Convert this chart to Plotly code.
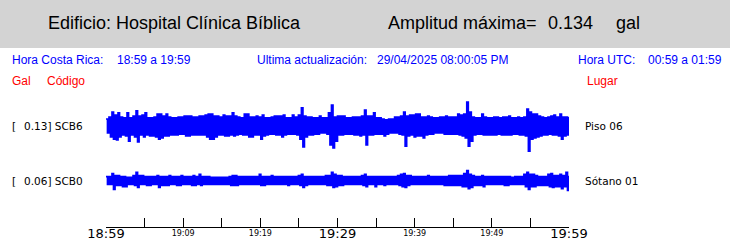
import numpy as np
import plotly.graph_objects as go

# ---------------- data ----------------
station_codes = ["SCB6", "SCB0"]
station_places = ["Piso 06", "Sótano 01"]
station_max_gal = [0.13, 0.06]
max_amplitude = "0.134"

tick_minutes = [0, 5, 10, 15, 20, 25, 30, 35, 40, 45, 50, 55, 60]
small_tick_text = ["", "", "19:09", "", "19:19", "", "", "", "19:39", "", "19:49", "", ""]
big_tick_minutes = [0, 30, 60]
big_tick_text = ["18:59", "19:29", "19:59"]

# peak amplitudes (mgal) per ~23 s bin, 18:59 -> 19:59 : upward / downward
scb6_up = [39,50,78,61,73,50,45,73,45,56,84,56,61,73,45,45,50,67,67,56,67,50,45,45,50,50,56,56,56,50,50,
           56,56,61,67,67,56,56,50,61,56,56,73,56,50,45,67,67,50,50,56,50,61,45,45,50,56,56,56,61,45,
           45,61,50,61,101,56,50,50,45,45,56,45,45,73,117,50,56,56,56,45,45,50,50,50,56,89,56,56,73,45,45,
           39,34,39,39,50,50,56,78,56,61,61,67,67,50,50,56,50,45,45,50,50,56,50,50,50,67,61,67,134,78,50,
           45,45,67,50,45,45,50,50,45,50,50,56,45,45,50,45,50,95,78,67,67,56,50,45,50,56,61,50,67,50,50,45]
scb6_dn = [39,61,73,78,61,50,56,84,50,61,89,50,61,50,56,56,61,73,67,56,56,50,50,50,45,45,56,56,50,50,50,
           50,50,61,73,73,61,50,50,56,56,50,56,50,45,50,50,61,61,50,50,73,56,50,45,45,50,50,61,50,45,
           45,45,50,73,117,61,50,50,45,45,39,39,45,106,123,84,50,50,45,45,45,50,50,56,50,106,50,50,45,45,45,
           56,45,39,39,39,45,50,112,56,50,61,56,56,67,50,45,45,39,39,39,45,45,45,45,45,50,56,67,112,84,50,
           45,45,50,50,50,50,50,45,50,50,50,50,45,45,50,50,56,140,73,67,61,56,50,50,45,50,50,56,73,56,50,45]
scb0_up = [22,22,39,28,28,22,22,17,17,28,45,28,28,22,22,22,22,28,22,22,22,28,22,22,22,28,22,22,22,28,22,
           34,22,22,22,17,17,17,17,17,17,22,28,28,22,22,22,22,22,22,22,34,22,22,22,28,22,22,22,22,22,
           22,22,22,28,34,22,22,22,22,22,22,22,28,28,45,34,28,28,22,22,22,22,22,22,28,34,22,22,22,22,22,
           22,22,22,22,22,28,34,39,28,28,22,22,22,22,22,28,22,22,22,22,22,22,28,28,28,28,28,39,56,34,28,
           22,22,28,22,22,22,22,22,22,22,22,22,17,22,22,22,34,45,34,34,28,22,22,22,34,39,28,28,34,28,45,22]
scb0_dn = [22,22,50,28,28,34,34,22,22,28,39,22,22,28,28,22,22,39,28,28,28,22,22,28,28,22,22,22,28,28,22,
           28,22,22,22,22,22,22,22,22,22,28,28,28,22,22,22,22,22,22,22,28,28,22,22,22,22,22,22,22,28,
           22,22,22,28,39,28,22,22,22,22,22,22,28,28,39,34,28,28,22,22,22,22,22,22,28,34,22,22,34,22,22,
           28,22,22,22,22,28,34,39,28,22,22,22,22,22,22,22,22,22,22,22,28,28,28,28,28,28,34,34,45,39,28,
           28,28,34,22,22,22,22,22,22,28,28,22,22,22,22,22,34,50,34,34,28,28,28,28,34,39,34,34,45,34,56,28]

# ---------------- layout constants ----------------
W, H = 730, 247
ML, MR, MT, MB = 106, 161, 0, 20
PW = W - ML - MR
PH = H - MT - MB
PX_PER_GAL = 179.0


def px(xp):
    return (xp - ML) / PW


def py(yp):
    return (PH - yp) / PH


def zig(up, dn):
    n = len(up)
    t = np.arange(n) * 60.0 / (n - 1)
    dt = t[1] - t[0]
    xs, ys = [], []
    for i in range(n):
        xs += [t[i], t[i] + dt / 2]
        ys += [up[i] / 1000.0, -dn[i] / 1000.0]
    return xs, ys


fig = go.Figure()
blue = "#0000ff"
x6, y6 = zig(scb6_up, scb6_dn)
x0, y0 = zig(scb0_up, scb0_dn)
fig.add_trace(go.Scatter(x=x6, y=y6, mode="lines", line=dict(color=blue, width=1.7, shape="hv"),
                         xaxis="x", yaxis="y", hoverinfo="skip", showlegend=False))
fig.add_trace(go.Scatter(x=x0, y=y0, mode="lines", line=dict(color=blue, width=1.7, shape="hv"),
                         xaxis="x", yaxis="y2", hoverinfo="skip", showlegend=False))
fig.add_trace(go.Scatter(x=[0, 60], y=[0, 0], mode="lines", line=dict(width=0),
                         opacity=0, xaxis="x2", yaxis="y", hoverinfo="skip", showlegend=False))


def dom(center_px, half_px):
    c = py(center_px)
    h = half_px / PH
    return [c - h, c + h], half_px / PX_PER_GAL


d6, r6 = dom(126, 30)
d0, r0 = dom(180.5, 14)

axis_font_small = dict(family="DejaVu Sans", size=8, color="black")
axis_font_big = dict(family="DejaVu Sans", size=13, color="black")

fig.update_layout(
    width=W, height=H,
    margin=dict(l=ML, r=MR, t=MT, b=MB, pad=0),
    paper_bgcolor="white", plot_bgcolor="white",
    xaxis=dict(range=[0, 60], tickmode="array", tickvals=tick_minutes, ticktext=small_tick_text,
               ticks="inside", ticklen=9, tickwidth=1, tickcolor="black",
               showline=True, linecolor="black", linewidth=1, showgrid=False, zeroline=False,
               tickfont=axis_font_small, anchor="free", position=0, fixedrange=True,
               ticklabelstandoff=-2),
    xaxis2=dict(range=[0, 60], tickmode="array", tickvals=big_tick_minutes, ticktext=big_tick_text,
                ticks="", showline=False, showgrid=False, zeroline=False, tickfont=axis_font_big,
                overlaying="x", anchor="free", position=0, side="bottom", fixedrange=True,
                ticklabelstandoff=-3),
    yaxis=dict(domain=d6, range=[-r6, r6], visible=False, fixedrange=True),
    yaxis2=dict(domain=d0, range=[-r0, r0], visible=False, fixedrange=True),
)

# header band
fig.add_shape(type="rect", xref="paper", yref="paper", x0=px(0), x1=px(W), y0=py(48), y1=py(0),
              fillcolor="#d3d3d3", line=dict(width=0), layer="below")

ann = []


def txt(x, y, s, font):
    ann.append(dict(x=px(x), y=py(y), xref="paper", yref="paper", text=s, showarrow=False,
                    xanchor="left", yanchor="middle", font=font))


title_font = dict(family="Liberation Sans, Arial", size=18, color="black")
blue_font = dict(family="Liberation Sans, Arial", size=12, color=blue)
red_font = dict(family="Liberation Sans, Arial", size=12, color="#ff0000")
lab_font = dict(family="DejaVu Sans", size=10.5, color="black")

txt(46, 23, "Edificio: Hospital Clínica Bíblica", title_font)
txt(385.5, 23, "Amplitud máxima=", title_font)
txt(545.5, 23, max_amplitude, title_font)
txt(613.5, 23, "gal", title_font)

txt(10, 60, "Hora Costa Rica:", blue_font)
txt(115, 60, "18:59 a 19:59", blue_font)
txt(255, 60, "Ultima actualización:", blue_font)
txt(375, 60, "29/04/2025 08:00:05 PM", blue_font)
txt(575.5, 60, "Hora UTC:", blue_font)
txt(645.5, 60, "00:59 a 01:59", blue_font)

txt(10, 81, "Gal", red_font)
txt(45, 81, "Código", red_font)
txt(585, 81, "Lugar", red_font)

for code, place, mx, yc in zip(station_codes, station_places, station_max_gal, [126, 181]):
    txt(10, yc, "[", lab_font)
    txt(22, yc, f"{mx:.2f}] {code}", lab_font)
    txt(582.5, yc, place, lab_font)

fig.update_layout(annotations=ann)
fig.write_html("out.html")
